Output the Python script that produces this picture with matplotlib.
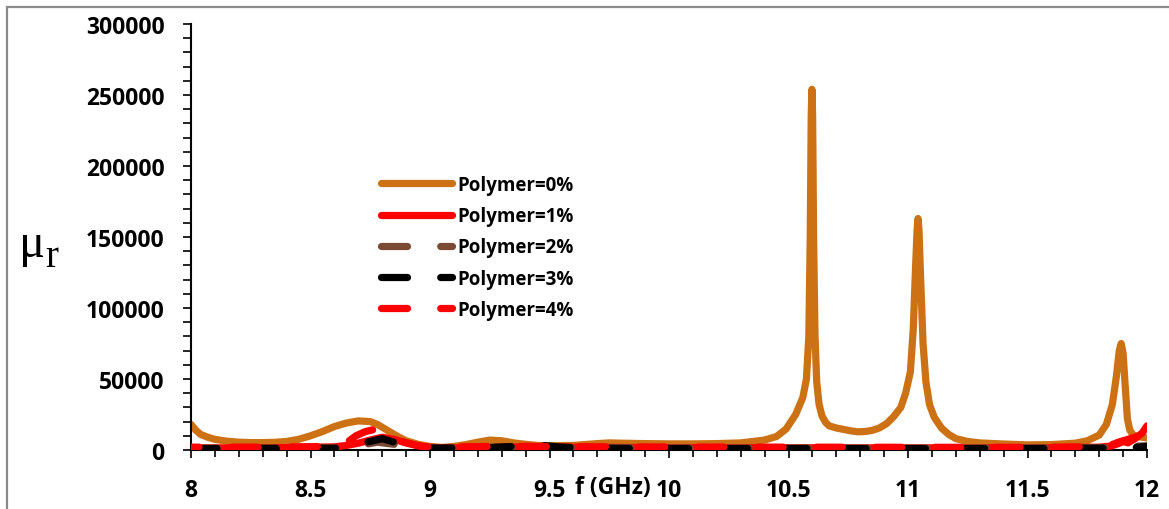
import matplotlib
matplotlib.use("Agg")
import matplotlib.pyplot as plt
from matplotlib.patches import Rectangle
from matplotlib.ticker import MultipleLocator
from matplotlib.lines import Line2D

# Relative permeability spectra, X-band (8-12 GHz)
freq_p0 = [8.00, 8.02, 8.04, 8.07, 8.10, 8.15, 8.20, 8.25, 8.30, 8.35, 8.40, 8.45,
           8.50, 8.55, 8.60, 8.65, 8.70, 8.75, 8.78, 8.82, 8.86, 8.90, 8.95, 9.00,
           9.05, 9.10, 9.15, 9.20, 9.25, 9.30, 9.35, 9.40, 9.45, 9.50, 9.60, 9.70,
           9.75, 9.80, 9.90, 10.00, 10.10, 10.20, 10.30, 10.40, 10.45, 10.49, 10.53,
           10.56, 10.575, 10.585, 10.591, 10.595, 10.598, 10.601, 10.605, 10.611,
           10.618, 10.628, 10.64, 10.655, 10.67, 10.70, 10.73, 10.76, 10.79, 10.82,
           10.85, 10.88, 10.91, 10.94, 10.97, 10.99, 11.01, 11.022, 11.032, 11.038,
           11.042, 11.046, 11.053, 11.063, 11.075, 11.09, 11.11, 11.14, 11.17, 11.20,
           11.25, 11.30, 11.40, 11.50, 11.60, 11.70, 11.75, 11.80, 11.83, 11.855,
           11.872, 11.884, 11.892, 11.90, 11.91, 11.918, 11.928, 11.94, 11.96, 12.00]
mu_p0 = [18000, 14000, 11000, 9000, 7500, 6200, 5500, 5200, 5200, 5400, 6000, 7500,
         10000, 13000, 16500, 19000, 20500, 20000, 18000, 14000, 10000, 6500, 4000, 2500,
         1800, 2500, 3800, 5500, 7000, 6500, 5000, 4000, 3200, 3000, 3200, 4500,
         5000, 4800, 4500, 4300, 4300, 4500, 5000, 7000, 9500, 14800, 25000,
         37000, 50000, 80000, 150000, 235000, 254000, 235000, 150000, 80000,
         48000, 32000, 24000, 19500, 17000, 15500, 14500, 13500, 12800, 13000,
         13800, 15500, 18500, 23500, 30000, 40000, 55000, 85000, 130000, 155000,
         163000, 155000, 120000, 75000, 48000, 32000, 23000, 15500, 11000, 8000,
         6000, 5000, 4200, 3600, 3800, 4800, 6500, 10500, 18000, 32000,
         52000, 70000, 75000, 68000, 42000, 22000, 14000, 11000, 9500, 8500]

freq_p1 = [8.00, 8.30, 8.60, 8.65, 8.70, 8.75, 8.80, 8.85, 8.90, 8.95, 9.00, 9.10,
           9.30, 9.45, 9.60, 9.80, 10.00, 10.40, 10.80, 11.20, 11.60, 11.80, 11.85,
           11.88, 11.90, 11.92, 11.95, 11.98, 12.00]
mu_p1 = [1500, 1500, 2200, 3200, 4800, 7000, 9000, 7500, 5000, 3000, 1800, 1500,
         1900, 2300, 2000, 1800, 1700, 1600, 1500, 1500, 1600, 2000, 2800,
         4500, 6000, 5000, 8000, 12000, 17000]

freq_p2 = [8.00, 8.60, 8.70, 8.78, 8.85, 8.95, 9.05, 9.50, 10.00, 11.00, 11.80, 12.00]
mu_p2 = [1200, 1400, 3000, 5500, 4000, 2000, 1200, 1800, 1400, 1300, 1600, 3000]

freq_p3 = [8.00, 8.60, 8.65, 8.70, 8.75, 8.80, 8.84, 8.90, 9.00, 9.20, 9.35, 9.45,
           9.55, 9.70, 10.00, 10.50, 11.00, 11.50, 11.85, 11.95, 12.00]
mu_p3 = [1000, 1200, 2500, 4500, 6000, 8000, 6000, 3500, 1300, 1500, 2500, 3500,
         2000, 1200, 1000, 1000, 1000, 1000, 1300, 1800, 2500]

freq_p4 = [8.00, 8.30, 8.60, 8.65, 8.69, 8.73, 8.78, 8.83, 8.88, 8.95, 9.00, 9.20,
           9.40, 9.60, 10.00, 10.50, 11.00, 11.50, 11.80, 11.85, 11.88, 11.91,
           11.94, 11.97, 12.00]
mu_p4 = [2000, 2000, 2500, 5000, 10000, 13000, 15000, 10000, 6000, 3000, 2000, 2400,
         2600, 2300, 2100, 2000, 1900, 1900, 2300, 3500, 5500, 7000,
         8500, 10000, 14000]

series_labels = ["Polymer=0%", "Polymer=1%", "Polymer=2%", "Polymer=3%", "Polymer=4%"]
x_ticks = [8, 8.5, 9, 9.5, 10, 10.5, 11, 11.5, 12]
x_tick_labels = ["8", "8.5", "9", "9.5", "10", "10.5", "11", "11.5", "12"]
y_ticks = [0, 50000, 100000, 150000, 200000, 250000, 300000]

W, H = 1169, 510
fig = plt.figure(figsize=(W / 100, H / 100), dpi=100)
fig.patch.set_facecolor("white")

# grey outer frame (right/bottom edges run off the canvas)
fig.patches.append(Rectangle((7 / W, -0.2), 1.2, 1.2 - 8 / H,
                             transform=fig.transFigure, fill=False,
                             edgecolor="#8a8a8a", lw=1.6, clip_on=False))

ax = fig.add_axes([191 / W, 1 - 451 / H, (1147 - 191) / W, (451 - 25) / H])

bold = dict(family="Open Sans", weight="bold")
lw = 5.2
dash = (3.6, 4.6)

ax.plot(freq_p0, mu_p0, color="#CC7214", lw=lw, solid_capstyle="round",
        solid_joinstyle="round", label=series_labels[0], zorder=2)
ax.plot(freq_p1, mu_p1, color="#FF0000", lw=lw, solid_capstyle="round",
        solid_joinstyle="round", label=series_labels[1], zorder=3)
ax.plot(freq_p2, mu_p2, color="#7A4A35", lw=lw, ls=(0, dash), dash_capstyle="round",
        label=series_labels[2], zorder=4)
ax.plot(freq_p3, mu_p3, color="#000000", lw=lw, ls=(0, dash), dash_capstyle="round",
        label=series_labels[3], zorder=5)
ax.plot(freq_p4, mu_p4, color="#FF0000", lw=lw, ls=(2.5, dash), dash_capstyle="round",
        label=series_labels[4], zorder=6)

ax.set_xlim(8, 12)
ax.set_ylim(0, 300000)
ax.set_xticks(x_ticks)
ax.set_xticklabels(x_tick_labels)
ax.set_yticks(y_ticks)
ax.set_yticklabels([str(v) for v in y_ticks])
ax.xaxis.set_minor_locator(MultipleLocator(0.1))
ax.yaxis.set_minor_locator(MultipleLocator(10000))

for s in ("top", "right"):
    ax.spines[s].set_visible(False)
for s in ("left", "bottom"):
    ax.spines[s].set_linewidth(1.5)
    ax.spines[s].set_color("black")

ax.tick_params(axis="x", which="major", direction="out", length=6, width=1.2, pad=14)
ax.tick_params(axis="x", which="minor", direction="out", length=5, width=1.2)
ax.tick_params(axis="y", which="major", direction="out", length=6, width=1.2, pad=13)
ax.tick_params(axis="y", which="minor", direction="out", length=6, width=1.2)
for lab in ax.get_xticklabels() + ax.get_yticklabels():
    lab.set_fontfamily("Open Sans")
    lab.set_fontweight("bold")
    lab.set_fontsize(16.5)

# axis titles
fig.text(613 / W, 1 - 488 / H, "f (GHz)", ha="center", va="center",
         fontsize=16.5, **bold)
fig.text(19 / W, 1 - 257 / H, "μ", ha="left", va="baseline",
         family="Liberation Serif", fontsize=35)
fig.text(45 / W, 1 - 267 / H, "r", ha="left", va="baseline",
         family="Liberation Serif", fontsize=28)

handles = [
    Line2D([], [], color="#CC7214", lw=lw, solid_capstyle="round"),
    Line2D([], [], color="#FF0000", lw=lw, solid_capstyle="round"),
    Line2D([], [], color="#7A4A35", lw=lw, ls=(0, dash), dash_capstyle="round"),
    Line2D([], [], color="#000000", lw=lw, ls=(0, dash), dash_capstyle="round"),
    Line2D([], [], color="#FF0000", lw=lw, ls=(0, dash), dash_capstyle="round"),
]
leg = ax.legend(handles, series_labels, loc="upper left",
                bbox_to_anchor=(381 / W, 1 - 176 / H), bbox_transform=fig.transFigure,
                frameon=False, borderpad=0, borderaxespad=0, handlelength=3.8,
                handletextpad=0.25, labelspacing=0.6,
                prop=dict(family="Open Sans", weight="bold", size=13.5))

fig.savefig("out.png", dpi=100, facecolor="white")
